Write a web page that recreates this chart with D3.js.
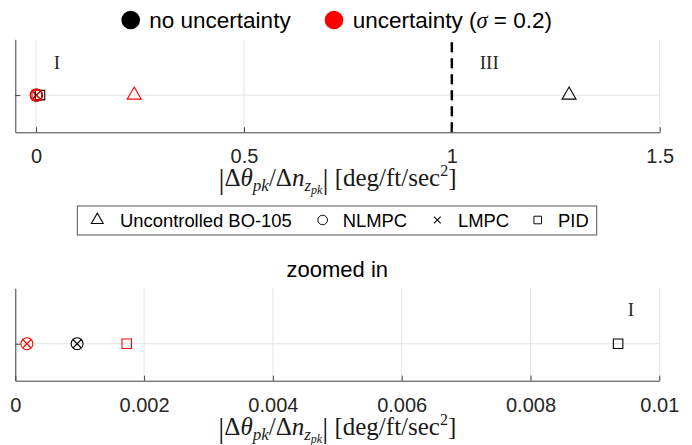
<!DOCTYPE html>
<html>
<head>
<meta charset="utf-8">
<script src="https://cdn.jsdelivr.net/npm/d3@7"></script>
<style>
  body { margin: 0; background: #fff; }
  svg { display: block; }
  .sans { font-family: "Liberation Sans", Arial, sans-serif; }
  .serif { font-family: "Liberation Serif", "DejaVu Serif", serif; }
</style>
</head>
<body>
<svg id="chart" width="692" height="445"></svg>
<script>
// controllers and marker shapes
var controllers = ["Uncontrolled BO-105", "NLMPC", "LMPC", "PID"];
var shapes = ["triangle", "circle", "x", "square"];
// cases
var cases = ["no uncertainty", "uncertainty"];
var caseColors = ["#000000", "#ff0000"];
// |dtheta_pk / dnz_pk| per controller
var noUncertainty = [1.282, 0.00096, 0.00096, 0.00936];
var withUncertainty = [0.236, 0.00018, 0.00018, 0.00173];
// ticks
var topTicks = [0, 0.5, 1, 1.5];
var topTickLabels = ["0", "0.5", "1", "1.5"];
var botTicks = [0, 0.002, 0.004, 0.006, 0.008, 0.01];
var botTickLabels = ["0", "0.002", "0.004", "0.006", "0.008", "0.01"];
// handling-quality level texts
var topRegions = [{label: "I", x: 0.05, y: 1.9}, {label: "III", x: 1.09, y: 1.9}];
var botRegions = [{label: "I", x: 0.00956, y: 1.94}];
var levelBoundary = [1];

var svg = d3.select("#chart");
var axisCol = "#404040", gridCol = "#e3e3e3";

var points = [];
controllers.forEach(function(c, i) {
  points.push({ctrl: c, shape: shapes[i], color: caseColors[0], v: noUncertainty[i]});
  points.push({ctrl: c, shape: shapes[i], color: caseColors[1], v: withUncertainty[i]});
});

function marker(shape) {
  if (shape === "triangle") return d3.symbol().type(d3.symbolTriangle).size(85)();
  if (shape === "circle") return d3.symbol().type(d3.symbolCircle).size(113)();
  if (shape === "square") return d3.symbol().type(d3.symbolSquare).size(90)();
  // x
  var s = 4;
  return "M" + (-s) + "," + (-s) + "L" + s + "," + s + "M" + (-s) + "," + s + "L" + s + "," + (-s);
}

function xLabel(g, cx, baseline) {
  var t = g.append("text").attr("class", "serif").attr("x", cx).attr("y", baseline)
    .attr("text-anchor", "middle").attr("font-size", 25).attr("fill", "#1a1a1a");
  t.append("tspan").attr("font-size", 30).attr("dy", 3).text("|");
  t.append("tspan").attr("dy", -3).text("\u0394");
  t.append("tspan").attr("font-style", "italic").text("\u03b8");
  t.append("tspan").attr("font-style", "italic").attr("font-size", 17).attr("dy", 5).text("pk");
  t.append("tspan").attr("dy", -5).text("/\u0394");
  t.append("tspan").attr("font-style", "italic").text("n");
  t.append("tspan").attr("font-style", "italic").attr("font-size", 17).attr("dy", 5).text("z");
  t.append("tspan").attr("font-style", "italic").attr("font-size", 12).attr("dy", 3).text("pk");
  t.append("tspan").attr("font-size", 30).attr("dy", -5).text("|");
  t.append("tspan").attr("dy", -3).text(" [deg/ft/sec");
  t.append("tspan").attr("font-size", 16).attr("dy", -10).text("2");
  t.append("tspan").attr("dy", 10).text("]");
}

function panel(opts) {
  var x = d3.scaleLinear().domain(opts.domain).range([15.3, opts.right]);
  var y = d3.scaleLinear().domain([0, 2.5]).range([opts.bottom, opts.top]);
  var g = svg.append("g");

  // grid
  g.selectAll(".vg").data(opts.ticks).enter().append("line")
    .attr("x1", function(d) { return x(d); }).attr("x2", function(d) { return x(d); })
    .attr("y1", y(0)).attr("y2", y(2.5))
    .attr("stroke", gridCol).attr("stroke-width", 1);
  g.append("line").attr("x1", x.range()[0]).attr("x2", x.range()[1])
    .attr("y1", y(1)).attr("y2", y(1)).attr("stroke", gridCol);

  // boundary
  g.selectAll(".bd").data(opts.boundary).enter().append("line")
    .attr("x1", function(d) { return x(d); }).attr("x2", function(d) { return x(d); })
    .attr("y1", y(0)).attr("y2", y(2.5))
    .attr("stroke", "#000").attr("stroke-width", 2.5).attr("stroke-dasharray", "10,6");

  // axes
  var xa = d3.axisBottom(x).tickValues(opts.ticks)
    .tickFormat(function(d, i) { return opts.tickLabels[i]; })
    .tickSizeInner(-5).tickSizeOuter(0).tickPadding(17);
  var gx = g.append("g").attr("transform", "translate(0," + y(0) + ")").call(xa);
  gx.selectAll("text").attr("class", "sans").attr("font-size", 20).attr("fill", "#262626");
  gx.selectAll("line, path").attr("stroke", axisCol);

  var ya = d3.axisLeft(y).tickValues([1]).tickFormat("").tickSizeInner(-5).tickSizeOuter(0);
  var gy = g.append("g").attr("transform", "translate(" + x.range()[0] + ",0)").call(ya);
  gy.selectAll("line, path").attr("stroke", axisCol);

  // region labels
  g.selectAll(".rl").data(opts.regions).enter().append("text")
    .attr("class", "serif").attr("font-size", 19).attr("fill", "#262626")
    .attr("text-anchor", "middle")
    .attr("x", function(d) { return x(d.x); }).attr("y", function(d) { return y(d.y) + 7; })
    .text(function(d) { return d.label; });

  // markers
  var clip = "clip" + opts.id;
  g.append("clipPath").attr("id", clip).append("rect")
    .attr("x", x.range()[0] - 8).attr("y", opts.top)
    .attr("width", x.range()[1] - x.range()[0] + 12).attr("height", opts.bottom - opts.top);
  g.append("g").attr("clip-path", "url(#" + clip + ")")
    .selectAll("path").data(points.filter(function(d) { return d.v <= opts.domain[1] * 1.01; }))
    .enter().append("path")
    .attr("d", function(d) { return marker(d.shape); })
    .attr("transform", function(d) { return "translate(" + x(d.v) + "," + y(1) + ")"; })
    .attr("fill", "none").attr("stroke", function(d) { return d.color; }).attr("stroke-width", 1.1);

  xLabel(g, (x.range()[0] + x.range()[1]) / 2, opts.bottom + 54);
}

panel({id: "top", domain: [-0.05, 1.5], right: 659.7, top: 39.3, bottom: 132.3,
  ticks: topTicks, tickLabels: topTickLabels, regions: topRegions, boundary: levelBoundary});
panel({id: "bot", domain: [0, 0.01], right: 659.3, top: 288.3, bottom: 380.7,
  ticks: botTicks, tickLabels: botTickLabels, regions: botRegions, boundary: []});

// title of lower panel
svg.append("text").attr("class", "sans").attr("x", 337.3).attr("y", 277)
  .attr("text-anchor", "middle").attr("font-size", 22).attr("fill", "#000").text("zoomed in");

// case legend (top)
var caseLeg = [{x: 130.7, tx: 149.3}, {x: 334, tx: 352.7}];
cases.forEach(function(c, i) {
  svg.append("circle").attr("cx", caseLeg[i].x).attr("cy", 20).attr("r", 9.3).attr("fill", caseColors[i]);
  var t = svg.append("text").attr("class", "sans").attr("x", caseLeg[i].tx).attr("y", 28)
    .attr("font-size", 22.5).attr("fill", "#000");
  if (i === 0) {
    t.text(c);
  } else {
    t.append("tspan").text(c + " (");
    t.append("tspan").attr("class", "serif").attr("font-style", "italic").text("\u03c3");
    t.append("tspan").text(" = 0.2)");
  }
});

// controller legend box
svg.append("rect").attr("x", 77.3).attr("y", 206).attr("width", 519.4).attr("height", 29)
  .attr("fill", "#fff").attr("stroke", "#555").attr("stroke-width", 1);
var legPos = [{m: 97.3, t: 120}, {m: 322.7, t: 342.7}, {m: 437.3, t: 458}, {m: 537.7, t: 558}];
controllers.forEach(function(c, i) {
  var small = {triangle: 0.85, circle: 0.8, x: 0.85, square: 0.8}[shapes[i]];
  svg.append("path").attr("d", marker(shapes[i]))
    .attr("transform", "translate(" + legPos[i].m + ",220) scale(" + small + ")")
    .attr("fill", "none").attr("stroke", "#000").attr("stroke-width", 1.2);
  svg.append("text").attr("class", "sans").attr("x", legPos[i].t).attr("y", 227.3)
    .attr("font-size", 18.4).attr("fill", "#000").text(c);
});
</script>
</body>
</html>
